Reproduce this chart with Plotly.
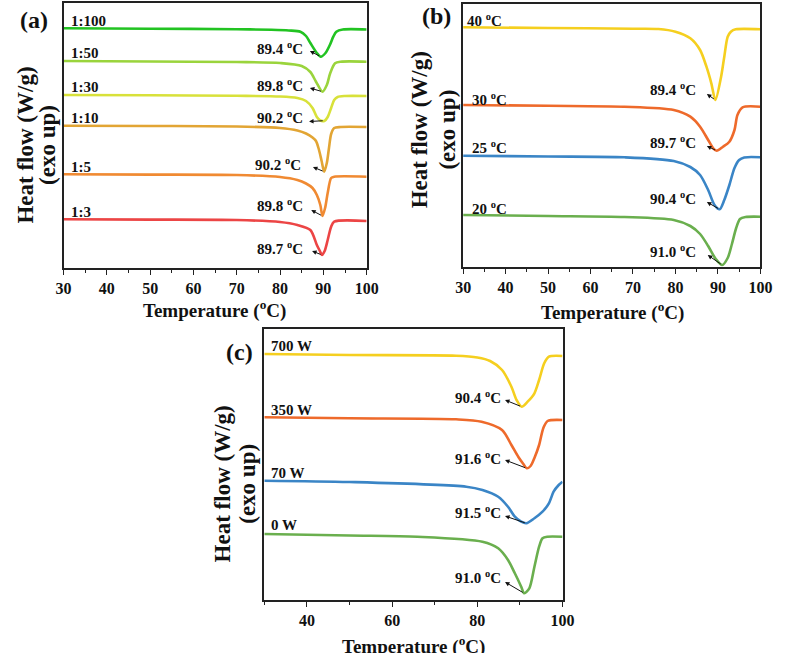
import plotly.graph_objects as go

# ---------------- data (heat flow in arbitrary units, exo up) ----------------
# Panel (a): ratio series
a_names = ["1:100", "1:50", "1:30", "1:10", "1:5", "1:3"]
a_colors = ["#22c322", "#9ad43c", "#d8e13a", "#e2a534", "#f08a32", "#ec4545"]
a_T_100 = [30, 50, 70, 78, 82, 84.7, 86, 87, 88.5, 89.4, 90.5, 91.5, 92.3, 93, 94.5, 100]
a_H_100 = [-28.3, -28.7, -29.2, -29.8, -30.5, -31.7, -36, -43, -53, -56.7, -53, -45, -36.7, -31.7, -29.5, -29.5]
a_T_50 = [30, 50, 70, 80, 85, 87, 88.3, 89.8, 90.8, 91.6, 92.7, 94, 100]
a_H_50 = [-61, -61.5, -62, -63, -66, -72, -81.7, -91.7, -85, -73, -63.3, -61.7, -61.7]
a_T_30 = [30, 50, 70, 80, 84, 86, 87.5, 88.5, 89.3, 90.3, 91, 91.8, 92.5, 93.3, 95, 100]
a_H_30 = [-95, -95.3, -95.8, -96.5, -98, -101, -108, -117, -120.5, -120.7, -117, -108, -100, -97, -96, -96]
a_T_10 = [30, 50, 70, 80, 84, 86, 87.5, 88.3, 89, 89.6, 90.2, 90.8, 91.3, 91.8, 92.5, 94, 100]
a_H_10 = [-125.7, -126, -126.5, -128, -130.5, -133.5, -137.5, -141, -150, -161, -171.7, -163, -148, -134, -128, -127, -127]
a_T_5 = [30, 50, 70, 80, 84, 86, 87.5, 88.5, 89.3, 89.8, 90.4, 91, 91.8, 92.5, 100]
a_H_5 = [-174.3, -174.6, -175, -177, -180, -183.5, -188, -195, -205, -216, -208, -193, -178, -176.7, -176.7]
a_T_3 = [30, 50, 70, 80, 84, 87, 88.5, 89.2, 89.7, 90.3, 91, 91.8, 92.5, 100]
a_H_3 = [-219.3, -219.6, -220, -222, -225, -230, -245, -251, -255, -251, -240, -226.7, -221.7, -221]
a_T = [a_T_100, a_T_50, a_T_30, a_T_10, a_T_5, a_T_3]
a_H = [a_H_100, a_H_50, a_H_30, a_H_10, a_H_5, a_H_3]
a_peak_T = [89.4, 89.8, 90.2, 90.2, 89.8, 89.7]
a_peak_labels = ["89.4", "89.8", "90.2", "90.2", "89.8", "89.7"]

# Panel (b): temperature series
b_names = ["40 °C", "30 °C", "25 °C", "20 °C"]
b_colors = ["#f5cf1f", "#ee6a2b", "#3a85c6", "#6aaf4e"]
b_T_40 = [30, 50, 70, 76, 80, 83.5, 85.8, 87.3, 88.45, 89.4, 90.75, 91.5, 92.3, 93.05, 94.2, 100]
b_H_40 = [-27.3, -28, -28.7, -29, -31.7, -38.3, -50, -66.7, -83.3, -100, -76.7, -56.7, -36.7, -31.7, -29.3, -29.3]
b_T_30 = [30, 50, 68, 79.6, 83.5, 85.8, 87.7, 88.9, 89.7, 91.2, 92.7, 93.9, 94.6, 95.8, 100]
b_H_30 = [-105, -105.8, -106.7, -110, -116.7, -126.7, -140, -148.3, -150.7, -146.7, -141.7, -130, -115, -107.3, -106.7]
b_T_25 = [30, 50, 68, 79.6, 83.5, 85.8, 87.7, 89.2, 90.4, 91.5, 92.7, 93.9, 95, 96.2, 100]
b_H_25 = [-155.7, -156.5, -157.3, -161, -167, -175, -190, -205, -209.3, -200, -185, -168, -160, -157.5, -157.3]
b_T_20 = [30, 50, 68, 79.6, 83.5, 85.8, 87.7, 89.5, 91.0, 92.3, 93.3, 94.3, 95.2, 96.5, 100]
b_H_20 = [-215, -216, -217, -220, -226, -234, -246, -259, -265, -258, -244, -228, -219, -217, -216.7]
b_T = [b_T_40, b_T_30, b_T_25, b_T_20]
b_H = [b_H_40, b_H_30, b_H_25, b_H_20]
b_peak_T = [89.4, 89.7, 90.4, 91.0]
b_peak_labels = ["89.4", "89.7", "90.4", "91.0"]

# Panel (c): power series
c_names = ["700 W", "350 W", "70 W", "0 W"]
c_colors = ["#f5cf1f", "#ee6a2b", "#3a85c6", "#6aaf4e"]
c_T_700 = [30, 50, 75, 80, 83, 85.8, 88, 89.2, 90.4, 91.8, 93.4, 94.5, 95.7, 96.8, 100]
c_H_700 = [-354, -355, -355.7, -357.5, -361, -370, -386.7, -400, -406.7, -401.7, -393.3, -380, -363.3, -356.7, -356]
c_T_350 = [30, 50, 75, 81, 85.8, 88, 89.6, 90.8, 91.6, 92.5, 93.4, 94.5, 95.5, 96.5, 100]
c_H_350 = [-417.3, -418.3, -419.3, -421.7, -430, -445, -456.7, -464, -468.3, -466, -458, -445, -428, -421, -420]
c_T_70 = [30, 50, 77.4, 81.2, 84.9, 87.2, 88.8, 90.3, 91.5, 93.4, 95.3, 96.8, 97.9, 99.1, 100]
c_H_70 = [-480.7, -482, -486.7, -490, -496.7, -506.7, -516.7, -521.7, -523.3, -518.3, -511.7, -503.3, -491.7, -485, -481.7]
c_T_0 = [30, 50, 65.9, 81.2, 84.9, 87.2, 88.8, 90.3, 91.0, 92.2, 93.4, 94.5, 95.3, 96.4, 100]
c_H_0 = [-534, -535.5, -536.7, -541.7, -548.3, -560, -573.3, -586.7, -593.3, -588.3, -566.7, -546.7, -538.3, -536.7, -536.7]
c_T = [c_T_700, c_T_350, c_T_70, c_T_0]
c_H = [c_H_700, c_H_350, c_H_70, c_H_0]
c_peak_T = [90.4, 91.6, 91.5, 91.0]
c_peak_labels = ["90.4", "91.6", "91.5", "91.0"]

# ---------------- layout helpers ----------------
W, H = 787, 653
FONT = "Liberation Serif"

def px_x(p):
    return p / W

def px_y(p):
    return 1 - p / H

panels = {
    "a": dict(x0=57, x1=368, y0=3, y1=268),
    "b": dict(x0=467, x1=772, y0=4, y1=267),
    "c": dict(x0=263, x1=569, y0=329, y1=600),
}

fig = go.Figure()
annotations = []

def add_panel(xa, ya, names, colors, Ts, Hs, peaks, plabels,
              name_pos, plabel_pos, arrow_heads):
    for n, col, t, h in zip(names, colors, Ts, Hs):
        fig.add_trace(go.Scatter(x=t, y=h, mode="lines", name=n,
                                 line=dict(color=col, width=2.6, shape="spline", smoothing=0.8),
                                 xaxis=xa, yaxis=ya, showlegend=False, hoverinfo="skip"))
    for n, (tx, hy) in zip(names, name_pos):
        annotations.append(dict(x=tx, y=hy, xref=xa, yref=ya, text="<b>%s</b>" % n.replace("°", "<sup>o</sup>"),
                                showarrow=False, xanchor="left", yanchor="middle",
                                font=dict(family=FONT, size=15, color="#111")))
    for lab, (tx, hy) in zip(plabels, plabel_pos):
        annotations.append(dict(x=tx, y=hy, xref=xa, yref=ya, text="<b>%s <sup>o</sup>C</b>" % lab,
                                showarrow=False, xanchor="right", yanchor="middle",
                                font=dict(family=FONT, size=15, color="#111")))
    for pk, h, (hx, hy) in zip(peaks, Hs, arrow_heads):
        annotations.append(dict(x=hx, y=hy, xref=xa, yref=ya, ax=pk, ay=min(h),
                                axref=xa, ayref=ya, text="", showarrow=True,
                                arrowhead=2, arrowsize=0.9, arrowwidth=1, arrowcolor="#111",
                                standoff=0, startstandoff=0))

add_panel("x", "y", a_names, a_colors, a_T, a_H, a_peak_T, a_peak_labels,
          name_pos=[(31.35, -20.7), (31.35, -53.3), (31.35, -87.3), (31.35, -118.3), (31.35, -166.7), (31.35, -211.7)],
          plabel_pos=[(85.8, -48), (85.8, -85), (85.8, -117), (85.4, -164), (85.8, -205), (85.8, -248)],
          arrow_heads=[(86.9, -51), (86.9, -88), (86.7, -121.5), (87.6, -167), (87.2, -210), (87.4, -251)])

add_panel("x2", "y2", b_names, b_colors, b_T, b_H, b_peak_T, b_peak_labels,
          name_pos=[(30.4, -20), (31.5, -99), (31.5, -147), (31.5, -208)],
          plabel_pos=[(85.3, -89), (85.3, -142), (85.3, -198), (85.3, -251)],
          arrow_heads=[(87.4, -94), (87.4, -146), (87.4, -202), (87.6, -255)])

add_panel("x3", "y3", c_names, c_colors, c_T, c_H, c_peak_T, c_peak_labels,
          name_pos=[(31.1, -346), (31.1, -410), (31.1, -473), (31.1, -525)],
          plabel_pos=[(86.05, -397), (86.05, -458), (86.05, -512), (86.05, -577)],
          arrow_heads=[(86.5, -400), (86.5, -460), (86.5, -516), (86.5, -582)])

axis_common = dict(showline=True, linecolor="#222", linewidth=1.5, mirror=True,
                   showgrid=False, zeroline=False)

def xaxis(key, dtick, minor_dtick, tickvals=None):
    p = panels[key]
    d = dict(axis_common, domain=[px_x(p["x0"]), px_x(p["x1"])], range=[30, 100],
             ticks="outside", ticklen=5, tickwidth=1.3, tickcolor="#222",
             tickfont=dict(family=FONT, size=16, color="#111", weight="bold"),
             minor=dict(dtick=minor_dtick, tick0=30, ticks="outside", ticklen=3, tickwidth=1.2, tickcolor="#222"))
    if tickvals:
        d["tickvals"] = tickvals
    else:
        d["dtick"] = dtick
        d["tick0"] = 30
    return d

def yaxis(key, anchor):
    p = panels[key]
    return dict(axis_common, domain=[px_y(p["y1"]), px_y(p["y0"])], range=[-p["y1"], -p["y0"]],
                showticklabels=False, ticks="", anchor=anchor)

fig.update_layout(
    width=W, height=H, margin=dict(l=0, r=0, t=0, b=0),
    paper_bgcolor="white", plot_bgcolor="white",
    xaxis=dict(xaxis("a", 10, 5), anchor="y"),
    yaxis=yaxis("a", "x"),
    xaxis2=dict(xaxis("b", 10, 5), anchor="y2"),
    yaxis2=yaxis("b", "x2"),
    xaxis3=dict(xaxis("c", 20, 10, tickvals=[40, 60, 80, 100]), anchor="y3"),
    yaxis3=yaxis("c", "x3"),
)

# panel letters, axis titles
for txt, cx, cy in [("(a)", 27, 20), ("(b)", 440, 16), ("(c)", 238, 352)]:
    annotations.append(dict(x=px_x(cx), y=px_y(cy), xref="paper", yref="paper", text="<b>%s</b>" % txt,
                            showarrow=False, xanchor="center", yanchor="middle",
                            font=dict(family=FONT, size=24, color="#111")))
for cx, cy in [(212, 309), (620, 312), (416, 645)]:
    annotations.append(dict(x=px_x(cx), y=px_y(cy), xref="paper", yref="paper",
                            text="<b>Temperature (<sup>o</sup>C)</b>", showarrow=False,
                            xanchor="center", yanchor="middle",
                            font=dict(family=FONT, size=19, color="#111")))
for (x1, x2, cy) in [(17, 40, 145), (422, 450, 130), (220, 245, 484)]:
    annotations.append(dict(x=px_x(x1), y=px_y(cy), xref="paper", yref="paper",
                            text="<b>Heat flow (W/g)</b>", showarrow=False, textangle=-90,
                            xanchor="center", yanchor="middle",
                            font=dict(family=FONT, size=23, color="#111")))
    annotations.append(dict(x=px_x(x2), y=px_y(cy), xref="paper", yref="paper",
                            text="<b>(exo up)</b>", showarrow=False, textangle=-90,
                            xanchor="center", yanchor="middle",
                            font=dict(family=FONT, size=23, color="#111")))

fig.update_layout(annotations=annotations)
fig.write_html("out.html", config={"displayModeBar": False},
               post_script="document.body.style.margin='0px';")
